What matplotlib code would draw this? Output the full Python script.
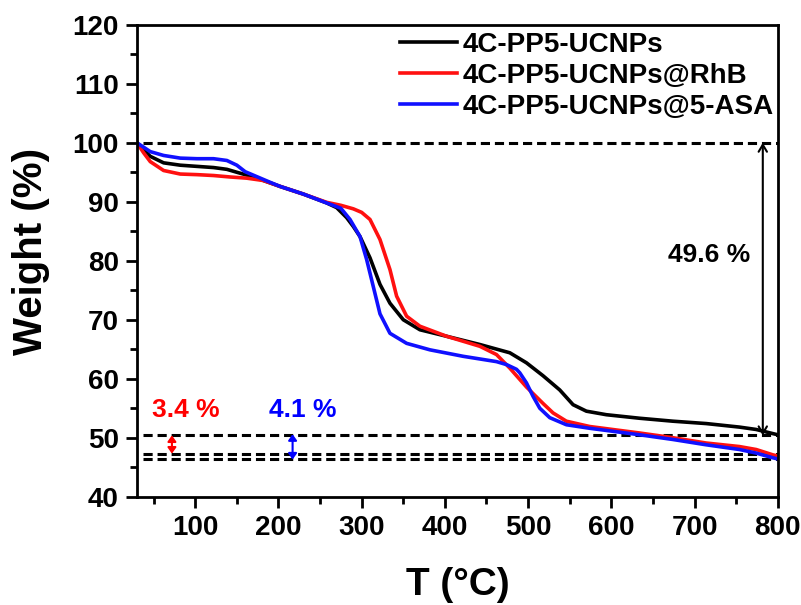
import matplotlib
matplotlib.use("Agg")
import matplotlib.pyplot as plt
from matplotlib.ticker import MultipleLocator

plt.rcParams['font.family'] = ['Liberation Sans', 'DejaVu Sans']
plt.rcParams['font.weight'] = 'bold'

# TGA curves (T in degC, weight in %)
t_black = [30, 46, 62, 82, 102, 122, 138, 150, 160, 170, 190, 202, 230, 258, 270, 282,
           290, 298, 310, 322, 334, 350, 370, 402, 442, 478, 498, 518, 538, 554, 570,
           594, 634, 674, 714, 754, 774, 794, 800]
w_black = [100, 97.7, 96.6, 96.2, 96.0, 95.8, 95.5, 95.0, 94.6, 94.2, 93.2, 92.6, 91.3,
           89.8, 89.0, 87.3, 85.8, 84.1, 80.5, 76.0, 72.8, 70.0, 68.3, 67.2, 65.8, 64.4,
           62.7, 60.5, 58.1, 55.6, 54.5, 53.9, 53.3, 52.8, 52.4, 51.8, 51.4, 50.7, 50.5]

t_red = [30, 38, 46, 62, 82, 102, 122, 142, 162, 182, 202, 230, 258, 275, 290, 300, 310,
         322, 334, 342, 354, 370, 402, 442, 462, 478, 498, 518, 530, 546, 574, 634, 674,
         714, 754, 774, 794, 800]
w_red = [100, 98.3, 96.8, 95.3, 94.7, 94.6, 94.45, 94.2, 94.0, 93.6, 92.6, 91.3, 89.9,
         89.4, 88.8, 88.2, 87.0, 83.6, 78.5, 74.0, 70.6, 68.9, 67.2, 65.5, 64.1, 61.8,
         58.6, 55.8, 54.2, 52.8, 51.9, 50.8, 50.0, 49.1, 48.5, 48.0, 47.1, 46.9]

t_blue = [30, 46, 62, 82, 102, 122, 138, 150, 160, 170, 190, 202, 230, 258, 275, 286,
          298, 306, 314, 322, 334, 354, 382, 422, 462, 474, 486, 490, 498, 506, 514, 526,
          546, 574, 634, 674, 714, 754, 774, 794, 800]
w_blue = [100, 98.5, 97.85, 97.4, 97.3, 97.3, 97.0, 96.2, 95.1, 94.5, 93.3, 92.6, 91.3,
          89.8, 88.9, 87.0, 84.1, 80.2, 75.6, 71.0, 67.7, 66.0, 64.9, 63.8, 62.9, 62.4,
          61.6, 61.0, 59.3, 57.0, 55.0, 53.4, 52.2, 51.6, 50.5, 49.7, 48.8, 48.0, 47.4,
          46.6, 46.4]

labels = ['4C-PP5-UCNPs', '4C-PP5-UCNPs@RhB', '4C-PP5-UCNPs@5-ASA']

# dashed reference levels and the loss arrows
ref_levels = [100, 50.4, 47.3, 46.4]
ref_start = 37
loss_arrows = [  # x, top, bottom, color, style
    (782, 100, 50.4, 'black', '<->'),
    (72, 50.4, 47.3, 'red', '<|-|>'),
    (217, 50.6, 46.3, 'blue', '<|-|>'),
]
loss_texts = [  # x, y, text, color
    (718, 81.0, '49.6 %', 'black'),
    (89, 54.7, '3.4 %', 'red'),
    (229, 54.7, '4.1 %', 'blue'),
]

fig = plt.figure(figsize=(8.01, 6.05), dpi=100)
ax = fig.add_axes([0.171, 0.179, 0.8, 0.78])

for lev in ref_levels:
    ax.plot([ref_start, 800], [lev, lev], color='black', lw=2.2, ls=(0, (3, 1.6)))

ax.plot(t_black, w_black, color='black', lw=2.6, label=labels[0])
ax.plot(t_red, w_red, color='#ff1010', lw=2.6, label=labels[1])
ax.plot(t_blue, w_blue, color='#1010ff', lw=2.6, label=labels[2])

for x, top, bot, c, st in loss_arrows:
    if st == '<->':
        props = dict(arrowstyle='<->,head_length=0.5,head_width=0.3', color=c, lw=1.5,
                     shrinkA=0, shrinkB=0)
    else:
        props = dict(arrowstyle='<|-|>,head_length=0.35,head_width=0.25', color=c, lw=1.5,
                     shrinkA=0, shrinkB=0)
    ax.annotate('', xy=(x, bot), xytext=(x, top), arrowprops=props)

for x, y, s, c in loss_texts:
    ax.text(x, y, s, color=c, fontsize=19, fontweight='bold', ha='center', va='center')

ax.set_xlim(30, 800)
ax.set_ylim(40, 120)
ax.xaxis.set_major_locator(MultipleLocator(100))
ax.xaxis.set_minor_locator(MultipleLocator(50))
ax.yaxis.set_major_locator(MultipleLocator(10))
ax.yaxis.set_minor_locator(MultipleLocator(5))
ax.set_xticks(range(100, 801, 100))

for s in ax.spines.values():
    s.set_linewidth(2)
ax.tick_params(which='major', direction='out', length=8, width=2, labelsize=20, pad=5)
ax.tick_params(which='minor', direction='out', length=5, width=2)

ax.set_xlabel('T (\u00b0C)', fontsize=28, fontweight='bold')
ax.set_ylabel('Weight (%)', fontsize=29, fontweight='bold')
ax.xaxis.set_label_coords(0.5, -0.148)
ax.yaxis.set_label_coords(-0.136, 0.52)

ax.legend(loc='upper left', bbox_to_anchor=(0.41, 0.985), frameon=False, fontsize=20,
          handlelength=2.05, handletextpad=0.2, labelspacing=0.18, borderpad=0,
          borderaxespad=0)

fig.savefig('out.png', dpi=100)
